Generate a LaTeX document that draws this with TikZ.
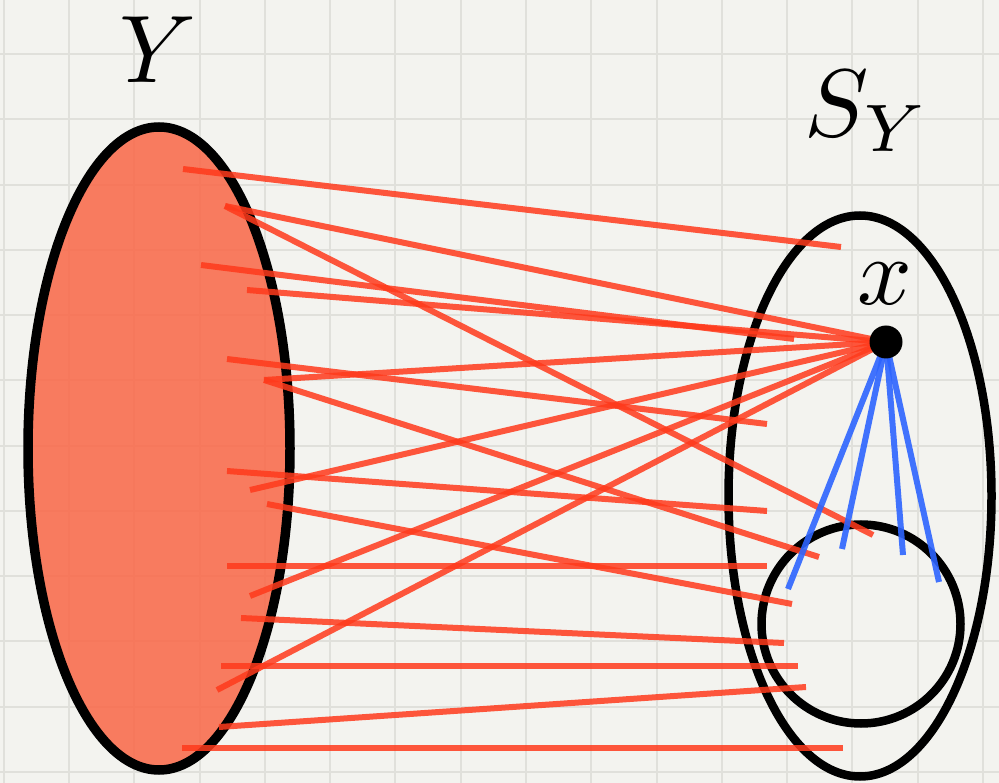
\documentclass[tikz,border=0pt]{standalone}
\definecolor{bgc}{RGB}{243,243,239}
\definecolor{gridc}{RGB}{224,224,219}
\definecolor{yfill}{RGB}{250,102,70}
\definecolor{redl}{RGB}{255,58,28}
\definecolor{bluel}{RGB}{45,100,255}
\begin{document}
\begin{tikzpicture}[x=1pt,y=-1pt,
  redline/.style={draw=redl, line width=6pt, opacity=0.85},
  blueline/.style={draw=bluel, line width=6pt, opacity=0.9},
  setline/.style={draw=black, line width=9.5pt},
  gridline/.style={draw=gridc, line width=2pt},
  lab/.style={inner sep=0pt, scale=9.6}]
\useasboundingbox (0,0) rectangle (999,783);
\fill[bgc] (0,0) rectangle (999,783);
\foreach \i in {0,...,15} \draw[gridline] ({3.7+65.29*\i},0) -- ({3.7+65.29*\i},783);
\foreach \j in {0,...,12} \draw[gridline] (0,{-11.27+65.27*\j}) -- (999,{-11.27+65.27*\j});
% sets
\draw[setline, fill=yfill, fill opacity=0.85] (159,448.5) ellipse [x radius=131pt, y radius=321.5pt];
\draw[setline, line width=8.5pt] (860,496) ellipse [x radius=131.5pt, y radius=280.5pt];
\draw[setline, line width=8.5pt] (861,624) circle [radius=99.5pt];
% labels
\node[lab] (ylab) at (158,50) {$Y$};
\node[lab, anchor=base west] (slab) at (803,137) {$S_Y$};
\node[lab] (xlab) at (885,284) {$x$};
% point
\coordinate (xc) at (886,342);
% left ends
\coordinate (L1) at (183,169);
\coordinate (L2) at (225,206);
\coordinate (L3) at (201,265);
\coordinate (L4) at (247,290);
\coordinate (L5) at (227,359);
\coordinate (L6) at (264,380);
\coordinate (L7) at (227,471);
\coordinate (L8) at (250,490);
\coordinate (L9) at (267,504);
\coordinate (L10) at (227,566);
\coordinate (L11) at (250,596);
\coordinate (L12) at (241,618);
\coordinate (L13) at (221,666);
\coordinate (L14) at (217,690);
\coordinate (L15) at (219,727);
\coordinate (L16) at (182,748);
% right ends
\coordinate (R1) at (841,247);
\coordinate (R2) at (873,535);
\coordinate (R3) at (794,339);
\coordinate (R5) at (767,424);
\coordinate (R6) at (819,557);
\coordinate (R7) at (767,511);
\coordinate (R9) at (792,604);
\coordinate (R10) at (767,566);
\coordinate (R12) at (784,643);
\coordinate (R13) at (798,666);
\coordinate (R15) at (806,687);
\coordinate (R16) at (843,748);
% blue ends
\coordinate (B1) at (788,589);
\coordinate (B2) at (842,549);
\coordinate (B3) at (903,555);
\coordinate (B4) at (939,582);
% red connectors
\draw[redline] (L1) -- (R1);
\draw[redline] (L2) -- (xc);
\draw[redline] (L2) -- (R2);
\draw[redline] (L3) -- (R3);
\draw[redline] (L4) -- (xc);
\draw[redline] (L5) -- (R5);
\draw[redline] (L6) -- (xc);
\draw[redline] (L6) -- (R6);
\draw[redline] (L7) -- (R7);
\draw[redline] (L8) -- (xc);
\draw[redline] (L9) -- (R9);
\draw[redline] (L10) -- (R10);
\draw[redline] (L11) -- (xc);
\draw[redline] (L12) -- (R12);
\draw[redline] (L13) -- (R13);
\draw[redline] (L14) -- (xc);
\draw[redline] (L15) -- (R15);
\draw[redline] (L16) -- (R16);
% blue connectors
\draw[blueline] (xc) -- (B1);
\draw[blueline] (xc) -- (B2);
\draw[blueline] (xc) -- (B3);
\draw[blueline] (xc) -- (B4);
\node[circle, fill=black, minimum size=33pt, inner sep=0pt] (x) at (xc) {};
\end{tikzpicture}
\end{document}
